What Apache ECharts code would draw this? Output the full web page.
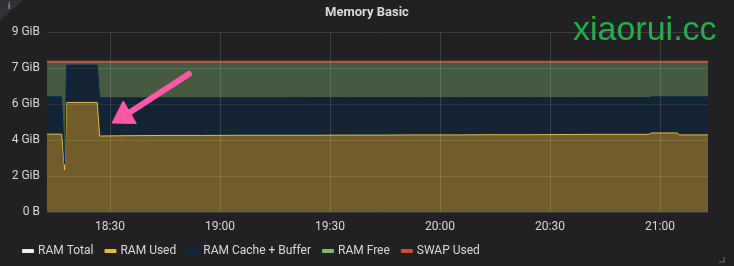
<!DOCTYPE html>
<html><head><meta charset="utf-8">
<script src="https://cdn.jsdelivr.net/npm/echarts@6/dist/echarts.min.js"></script>
<style>html,body{margin:0;padding:0;background:#212124;}#c{width:734px;height:266px;}</style>
</head><body><div id="c"></div>
<script>
// sample times (HH:MM:SS on the same day)
const times = ['18:12:50','18:16:50','18:17:39','18:18:11','18:26:32','18:27:11','18:35:00','18:45:00','18:55:00','19:05:00','19:15:00','19:25:00','19:35:00','19:45:00','19:55:00','20:05:00','20:15:00','20:25:00','20:35:00','20:45:00','20:57:00','20:57:40','21:04:40','21:05:20','21:13:05'];
// values in GiB
const ramTotal = [7.78,7.78,7.78,7.78,7.78,7.78,7.78,7.78,7.78,7.78,7.78,7.78,7.78,7.78,7.78,7.78,7.78,7.78,7.78,7.78,7.78,7.78,7.78,7.78,7.78];
const ramUsed  = [4.03,4.03,2.17,5.67,5.67,3.93,3.95,3.96,3.96,3.97,3.97,3.97,3.98,3.98,3.99,3.99,4.00,4.00,4.01,4.02,4.02,4.09,4.09,3.99,3.99];
const ramCache = [1.93,1.93,0.30,1.93,1.93,1.98,1.96,1.95,1.95,1.94,1.94,1.95,1.94,1.94,1.93,1.93,1.92,1.92,1.91,1.90,1.90,1.87,1.87,1.97,1.97];
const ramFree  = [1.82,1.82,5.31,0.18,0.18,1.87,1.87,1.87,1.87,1.87,1.87,1.86,1.86,1.86,1.86,1.86,1.86,1.86,1.86,1.86,1.86,1.82,1.82,1.82,1.82];
const swapUsed = [0,0,0,0,0,0,0,0,0,0,0,0,0,0,0,0,0,0,0,0,0,0,0,0,0];
const seriesNames = ['RAM Total','RAM Used','RAM Cache + Buffer','RAM Free','SWAP Used'];
// x tick labels
const xTickLabels = ['18:30','19:00','19:30','20:00','20:30','21:00'];
// y ticks every 2 GB (decimal), shown in GiB
const yTickStep = 2e9 / 1073741824;
const yTickCount = 5;
// annotation arrow (time, GiB)
const arrowTail = ['18:51:32', 7.14];
const arrowTip = ['18:30:44', 4.62];
const arrowHeadA = ['18:33:38', 5.71];
const arrowHeadB = ['18:37:05', 4.59];

// minutes since midnight
function tm(s){ const p = s.split(':').map(Number); return p[0]*60 + p[1] + (p[2]||0)/60; }
// data rows are [value, minutes] so that the value dimension is the stacked one
function rows(arr){ return times.map((t,i)=>[arr[i], tm(t)]); }
const pad = n => (n<10?'0':'')+n;
const xTickValues = xTickLabels.map(tm);

const chart = echarts.init(document.getElementById('c'), null, {renderer:'canvas'});
const txt = '#d8d9da';
const gridColor = 'rgba(255,255,255,0.13)';
const FONT = 'Roboto';
const enc = {x:1, y:0};
chart.setOption({
  animation:false,
  backgroundColor:'#212124',
  textStyle:{fontFamily:FONT},
  title:{text:'Memory Basic', left:'center', top:1, textStyle:{color:txt, fontSize:13, fontWeight:'bold', fontFamily:FONT}},
  legend:{
    left:17, top:240, itemWidth:12, itemHeight:4, itemGap:11,
    icon:'roundRect',
    textStyle:{color:txt, fontSize:12, fontFamily:FONT, padding:[0,0,0,-1]},
    data:seriesNames
  },
  grid:{left:47, right:26, top:32, bottom:54},
  xAxis:{
    type:'value', min:tm(times[0]), max:tm(times[times.length-1]),
    axisLine:{show:false},
    axisTick:{show:false, customValues:xTickValues},
    splitLine:{show:false},
    axisLabel:{color:txt, fontSize:12, fontFamily:FONT, margin:9, customValues:xTickValues,
      formatter:v=>{const m=Math.round(v); return pad(Math.floor(m/60))+':'+pad(m%60);}}
  },
  yAxis:{
    type:'value', min:0, max:yTickStep*yTickCount, interval:yTickStep,
    axisLine:{show:false}, axisTick:{show:false},
    splitLine:{show:true, lineStyle:{color:gridColor, width:1}},
    axisLabel:{color:txt, fontSize:12, fontFamily:FONT, margin:7,
      formatter:v=> v<1e-6 ? '0 B' : Math.round(v)+' GiB'}
  },
  series:[
    {name:seriesNames[0], type:'line', data:rows(ramTotal), encode:enc, symbol:'none', color:'#e5f5e0', lineStyle:{width:1}, z:1,
      markLine:{silent:true, symbol:'none', label:{show:false}, lineStyle:{color:gridColor, type:'solid', width:1},
        data:xTickValues.map(v=>({xAxis:v}))}},
    {name:seriesNames[1], type:'line', stack:'mem', data:rows(ramUsed), encode:enc, symbol:'none', color:'#EAB839', lineStyle:{width:1}, areaStyle:{opacity:0.4}, z:2},
    {name:seriesNames[2], type:'line', stack:'mem', data:rows(ramCache), encode:enc, symbol:'none', color:'#052B51', lineStyle:{width:1}, areaStyle:{opacity:0.4}, z:2},
    {name:seriesNames[3], type:'line', stack:'mem', data:rows(ramFree), encode:enc, symbol:'none', color:'#7EB26D', lineStyle:{width:1}, areaStyle:{opacity:0.4}, z:2},
    {name:seriesNames[4], type:'line', stack:'mem', data:rows(swapUsed), encode:enc, symbol:'none', color:'#d24b38', lineStyle:{width:2}, z:3}
  ]
});

function px(p){ return chart.convertToPixel({gridIndex:0}, [tm(p[0]), p[1]]); }
const tip = px(arrowTip), tail = px(arrowTail), ha = px(arrowHeadA), hb = px(arrowHeadB);
const baseMid = [(ha[0]+hb[0])/2, (ha[1]+hb[1])/2];
const pink = '#fc58a6';
chart.setOption({
  graphic:[
    {type:'polygon', shape:{points:[[0,0],[23,0],[0,21]]}, style:{fill:'#313135'}, z:10},
    {type:'text', left:8, top:2, style:{text:'i', fill:'#9a9a9e', font:'bold 9px '+FONT}, z:11},
    {type:'polyline', shape:{points:[[724,257],[724,262],[719,262]]}, style:{stroke:'#6a6a6e', lineWidth:1.2, fill:null}, z:10},
    {type:'text', x:573, y:14, style:{text:'xiaorui.cc', fill:'#22b04b', font:'34px "Liberation Sans", Arial, sans-serif'}, z:20},
    {type:'line', shape:{x1:tail[0], y1:tail[1], x2:baseMid[0], y2:baseMid[1]}, style:{stroke:pink, lineWidth:6, lineCap:'round'}, z:20},
    {type:'polygon', shape:{points:[tip, ha, hb]}, style:{fill:pink, stroke:pink, lineWidth:1.5, lineJoin:'round'}, z:20}
  ]
});
</script>
</body></html>
